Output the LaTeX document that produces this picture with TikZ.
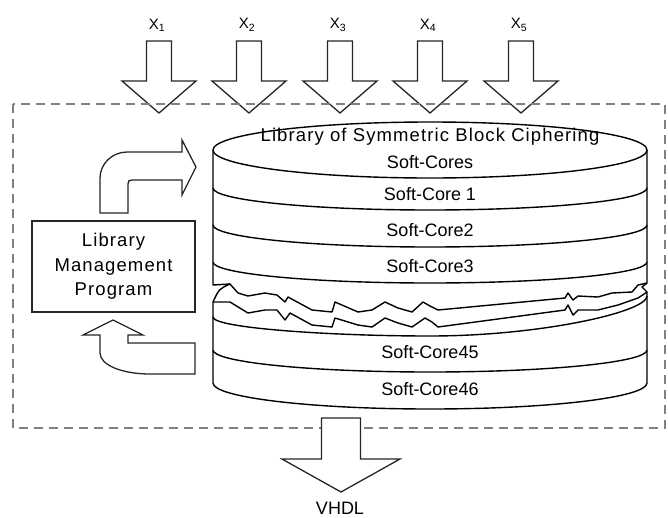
\documentclass[tikz,border=0pt]{standalone}
\usepackage{fontspec}
\setmainfont{Liberation Sans}

% 竖直的空心箭头: 中心x, 顶端y, 尖端y, 箭杆半宽, 箭头半宽, 箭头长度
\newcommand{\blockarrow}[6]{%
    \draw[block arrow] ({#1-#4},#2) -- ({#1+#4},#2) -- ({#1+#4},{#3-#6})
        -- ({#1+#5},{#3-#6}) -- (#1,#3) -- ({#1-#5},{#3-#6})
        -- ({#1-#4},{#3-#6}) -- cycle;}
% 圆柱的分层线: 左端y, 下垂量
\newcommand{\bandline}[2]{%
    \draw[core line] (213,#1) .. controls (213,{#1+0.55*#2}) and (310,{#1+#2})
        .. (430,{#1+#2}) .. controls (550,{#1+#2}) and (647,{#1+0.55*#2}) .. (647,#1);}

\begin{document}
\begin{tikzpicture}[
        x=1pt, y=-1pt,
        every node/.style={
            align=center,
            inner sep=0pt,
            font=\fontsize{18}{24.5}\selectfont
        },
        xlabel/.style={
            font=\fontsize{15}{18}\selectfont
        },
        wide text/.style={
            font=\fontsize{18.5}{24.5}\selectfont\addfontfeature{LetterSpace=6}
        },
        block arrow/.style={
            draw=black!85,
            line width=1.3pt,
            fill=white,
            line join=miter
        },
        core line/.style={
            draw=black,
            line width=1.4pt,
            line join=round
        },
        frame/.style={
            draw=black!50,
            line width=1.5pt,
            dash pattern=on 9pt off 6pt
        },
        lmp box/.style={
            draw=black!85,
            line width=1.3pt,
            minimum width=163pt,
            minimum height=91pt
        }
    ]
    \useasboundingbox (0,0) rectangle (668,517);

    % 输入 X1 ... X5
    \foreach \i/\xc in {1/159,2/249,3/340,4/430,5/521} {
        \blockarrow{\xc}{41}{113}{12.5}{37}{32}
        \node[xlabel] (x\i) at (\xc-2,25) {X\textsubscript{\i}};
    }

    % 虚线边框
    \draw[frame] (13,104) rectangle (665,428);

    % 圆柱 - 上半部分
    \draw[core line] (213,150) -- (213,285) -- (230,284) -- (238,293) -- (248,296)
        -- (265,293) -- (277,295) -- (285,302) -- (288,297) -- (312,310) -- (332,312)
        -- (335,302) -- (358,312) -- (372,310) -- (385,302) -- (398,308) -- (412,312)
        -- (423,302) -- (430,306) -- (438,310) -- (565,298) -- (568,293) -- (573,300)
        -- (578,296) -- (598,297) -- (612,293) -- (632,292) -- (638,285) -- (647,283)
        -- (647,150);
    \draw[core line] (430,150) ellipse [x radius=217pt, y radius=28pt];
    \bandline{188}{22}
    \bandline{225}{22}
    \bandline{262}{21}

    % 圆柱 - 下半部分
    \draw[core line] (230,284) .. controls (219,289) .. (213,302);
    \draw[core line] (213,383) -- (213,302) -- (230,302) -- (248,313) -- (265,310)
        -- (277,310) -- (285,320) -- (290,313) -- (312,325) -- (332,327) -- (335,318)
        -- (358,325) -- (372,327) -- (385,318) -- (398,323) -- (412,327) -- (425,318)
        -- (432,322) -- (438,327) -- (565,310) -- (568,305) -- (573,315) -- (578,310)
        -- (598,310) -- (618,305) -- (638,298) -- (647,292) -- (647,383);
    \draw[core line] (647,283) -- (642,287) -- (647,292);
    \draw[core line] (213,317) .. controls (213,328) and (330,336) .. (430,336)
        .. controls (540,336) and (647,312) .. (647,296);
    \bandline{350}{22}
    \bandline{383}{26}

    % 圆柱中的文字
    \node[wide text] (title) at (430,137) {Library of Symmetric Block Ciphering};
    \node (cores) at (430,162) {Soft-Cores};
    \node (core1) at (430,194) {Soft-Core 1};
    \node (core2) at (430,230) {Soft-Core2};
    \node (core3) at (430,266) {Soft-Core3};
    \node (core45) at (430,352) {Soft-Core45};
    \node (core46) at (430,389) {Soft-Core46};

    % 库管理程序
    \node[lmp box, wide text] (lmp) at (113.5,266.5) {Library\\Management\\Program};

    % 弯箭头 - 程序到库
    \draw[block arrow] (100,213) -- (100,178) .. controls (100,164) and (112,152) .. (127,152)
        -- (182,152) -- (182,140) -- (196,167) -- (182,195) -- (182,180) -- (132,180)
        .. controls (129,180) and (128,181) .. (128,184) -- (128,213) -- cycle;

    % 弯箭头 - 库到程序
    \draw[block arrow] (113,320) -- (143,335) -- (128,335) -- (128,343) -- (195,343)
        -- (195,374) -- (150,374) .. controls (122,374) and (100,365) .. (100,353)
        -- (100,335) -- (83,335) -- cycle;

    % 输出 VHDL
    \blockarrow{341}{418}{492}{19.5}{59}{33}
    \node (vhdl) at (340,508) {VHDL};
\end{tikzpicture}
\end{document}
